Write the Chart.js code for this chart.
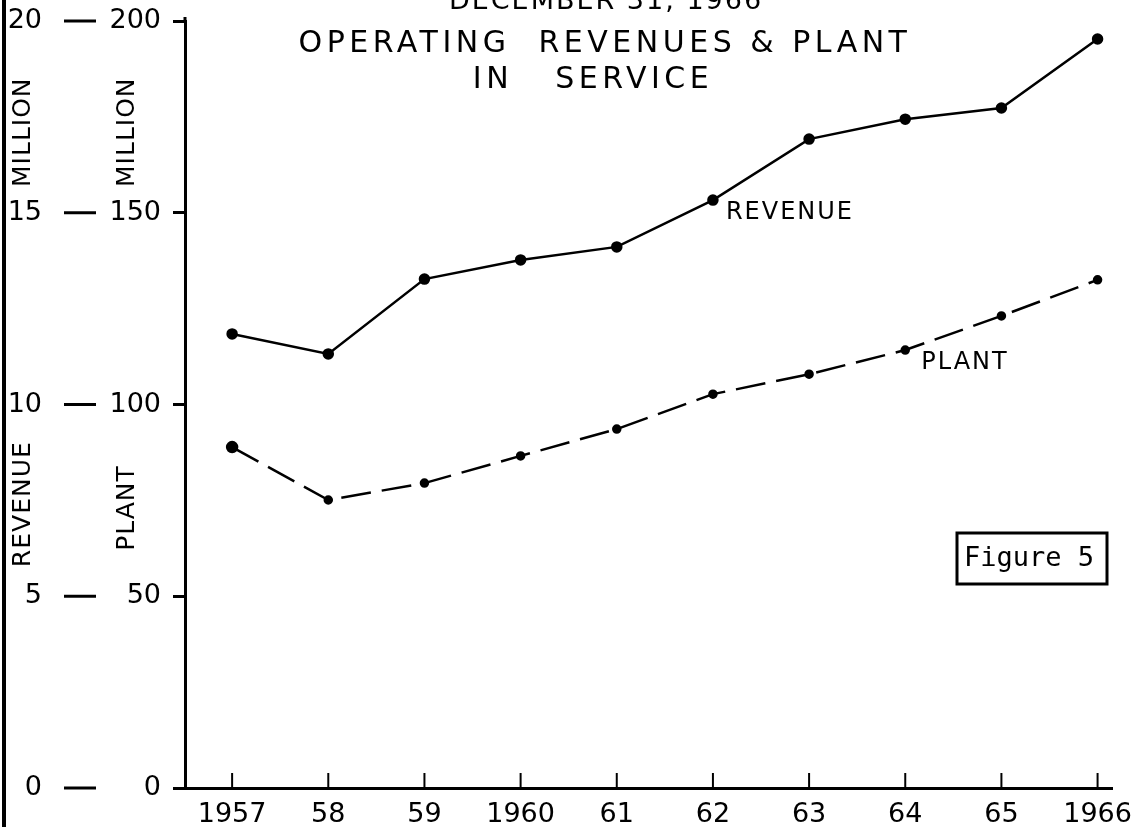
<!DOCTYPE html>
<html>
<head>
<meta charset="utf-8">
<script src="https://cdn.jsdelivr.net/npm/chart.js@4.4.1/dist/chart.umd.min.js"></script>
<style>
  html, body { margin: 0; padding: 0; background: #fff; }
  #wrap { width: 1134px; height: 827px; position: relative; }
</style>
</head>
<body>
<div id="wrap"><canvas id="chart"></canvas></div>
<script>
// data (plant and revenue in millions)
const years = [1957, 1958, 1959, 1960, 1961, 1962, 1963, 1964, 1965, 1966];
const yearLabels = ['1957', '58', '59', '1960', '61', '62', '63', '64', '65', '1966'];
const revenue = [11.84, 11.32, 13.27, 13.77, 14.11, 15.33, 16.92, 17.44, 17.73, 19.53];
const plant = [88.9, 75.1, 79.5, 86.6, 93.6, 102.7, 107.9, 114.2, 123.1, 132.5];
const revenueTicks = [0, 5, 10, 15, 20];
const plantTicks = [0, 50, 100, 150, 200];

const FONT = '"DejaVu Sans", sans-serif';

// keep tick label overhang from shrinking the plot
const noPad = s => { s.paddingTop = 0; s.paddingBottom = 0; s.paddingLeft = 0; s.paddingRight = 0; };

const extras = {
  id: 'extras',
  afterDraw(chart) {
    const ctx = chart.ctx;
    const xs = chart.scales.x, yp = chart.scales.y, yr = chart.scales.yRev;
    ctx.save();
    ctx.fillStyle = '#000';
    ctx.strokeStyle = '#000';

    // left edge bar
    ctx.lineWidth = 4;
    ctx.beginPath(); ctx.moveTo(4, 0); ctx.lineTo(4, 827); ctx.stroke();

    // y axis runs a little past the top tick
    ctx.lineWidth = 3;
    ctx.beginPath(); ctx.moveTo(yp.right, yp.top); ctx.lineTo(yp.right, yp.top - 4); ctx.stroke();

    // upward tick marks on the year axis
    ctx.lineWidth = 2;
    years.forEach(v => {
      const px = xs.getPixelForValue(v);
      ctx.beginPath(); ctx.moveTo(px, yp.bottom); ctx.lineTo(px, yp.bottom - 15); ctx.stroke();
    });

    // dashes between revenue and plant scales
    ctx.lineWidth = 3;
    revenueTicks.forEach(v => {
      const py = yr.getPixelForValue(v);
      ctx.beginPath(); ctx.moveTo(64, py); ctx.lineTo(96, py); ctx.stroke();
    });

    // rotated axis titles
    const rot = (txt, x, y) => {
      ctx.save();
      ctx.translate(x, y);
      ctx.rotate(-Math.PI / 2);
      ctx.font = '25px ' + FONT;
      ctx.letterSpacing = '1px';
      ctx.textAlign = 'center';
      ctx.textBaseline = 'middle';
      ctx.fillText(txt, 0, 0);
      ctx.restore();
    };
    rot('MILLION', 23, yp.getPixelForValue(171));
    rot('MILLION', 127, yp.getPixelForValue(171));
    rot('REVENUE', 23, yp.getPixelForValue(74));
    rot('PLANT', 127, yp.getPixelForValue(73));

    // titles
    ctx.textAlign = 'center';
    ctx.textBaseline = 'alphabetic';
    ctx.font = '27px ' + FONT;
    ctx.letterSpacing = '2px';
    ctx.fillText('DECEMBER 31, 1966', 606, 9);
    ctx.font = '30px ' + FONT;
    ctx.letterSpacing = '4.5px';
    ctx.fillText('OPERATING  REVENUES & PLANT', 605, 52);
    ctx.fillText('IN   SERVICE', 593, 88);

    // series labels next to points
    ctx.font = '24px ' + FONT;
    ctx.letterSpacing = '2px';
    ctx.textAlign = 'left';
    ctx.textBaseline = 'middle';
    const rp = chart.getDatasetMeta(0).data[5];
    ctx.fillText('REVENUE', rp.x + 13, rp.y + 13);
    const pp = chart.getDatasetMeta(1).data[7];
    ctx.fillText('PLANT', pp.x + 16, pp.y + 13);

    // figure box
    ctx.letterSpacing = '0px';
    ctx.lineWidth = 3;
    ctx.strokeRect(957, 533, 150, 51);
    ctx.font = '27px "DejaVu Sans Mono", monospace';
    ctx.fillText('Figure 5', 964, 559);
    ctx.restore();
  }
};

new Chart(document.getElementById('chart'), {
  type: 'line',
  data: {
    datasets: [
      {
        label: 'REVENUE',
        yAxisID: 'yRev',
        data: years.map((yr, i) => ({ x: yr, y: revenue[i] })),
        borderColor: '#000',
        backgroundColor: '#000',
        borderWidth: 2.5,
        pointRadius: 4.5,
        tension: 0
      },
      {
        label: 'PLANT',
        yAxisID: 'y',
        data: years.map((yr, i) => ({ x: yr, y: plant[i] })),
        borderColor: '#000',
        backgroundColor: '#000',
        borderWidth: 2.5,
        borderDash: [30, 11],
        pointRadius: [5, 3.5, 3.5, 3.5, 3.5, 3.5, 3.5, 3.5, 3.5, 3.5],
        tension: 0
      }
    ]
  },
  options: {
    responsive: true,
    maintainAspectRatio: false,
    animation: false,
    layout: { padding: { top: 21, right: 22, left: 0, bottom: 0 } },
    plugins: {
      legend: { display: false },
      tooltip: { enabled: false }
    },
    scales: {
      x: {
        type: 'linear',
        min: 1956.51,
        max: 1966.15,
        afterBuildTicks: s => { s.ticks = years.map(v => ({ value: v })); },
        afterFit: s => { s.height = 39; noPad(s); },
        grid: { display: false },
        border: { color: '#000', width: 3 },
        ticks: {
          color: '#000',
          padding: 3,
          maxRotation: 0,
          autoSkip: false,
          font: { family: FONT, size: 27 },
          callback: v => yearLabels[years.indexOf(v)]
        }
      },
      yRev: {
        position: 'left',
        weight: 1,
        min: 0,
        max: 20,
        afterBuildTicks: s => { s.ticks = revenueTicks.map(v => ({ value: v })); },
        afterFit: s => { s.width = 100; noPad(s); },
        grid: { display: false },
        border: { display: false },
        ticks: {
          color: '#000',
          padding: 50,
          font: { family: FONT, size: 27 }
        }
      },
      y: {
        position: 'left',
        weight: 0,
        min: 0,
        max: 200,
        afterBuildTicks: s => { s.ticks = plantTicks.map(v => ({ value: v })); },
        afterFit: s => { s.width = 85; noPad(s); },
        grid: { drawOnChartArea: false, color: '#000', lineWidth: 3, tickLength: 12 },
        border: { color: '#000', width: 3 },
        ticks: {
          color: '#000',
          padding: 12,
          font: { family: FONT, size: 27 }
        }
      }
    }
  },
  plugins: [extras]
});
</script>
</body>
</html>
